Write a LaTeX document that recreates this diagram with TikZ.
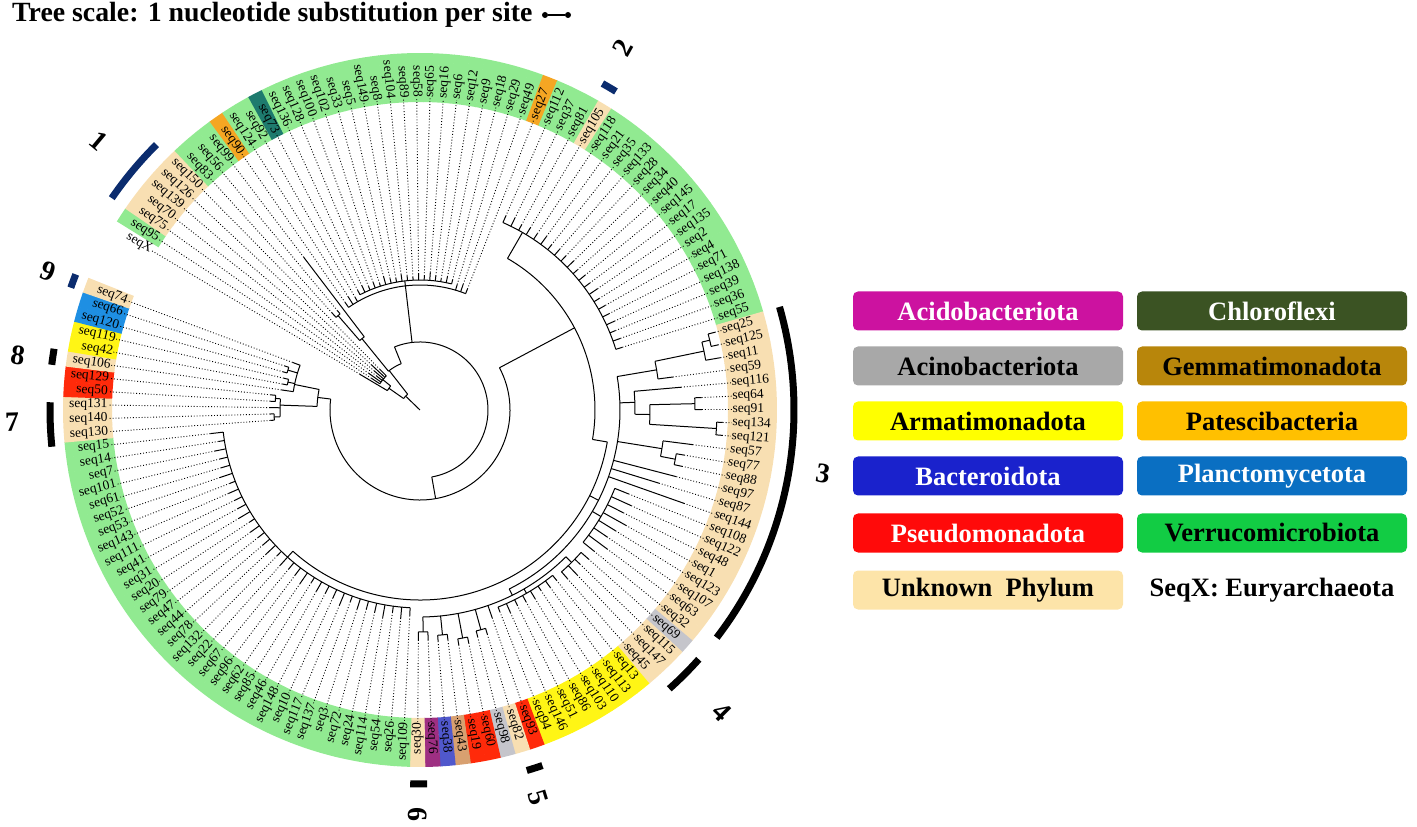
\documentclass[tikz,border=0pt]{standalone}
\usepackage{fontspec}
\setmainfont{Liberation Serif}
\usetikzlibrary{positioning}

\definecolor{vgreen}{HTML}{91EA91}
\definecolor{unk}{HTML}{F8DFB2}
\definecolor{pat}{HTML}{F5A623}
\definecolor{chl}{HTML}{1E7B6E}
\definecolor{arma}{HTML}{FFF515}
\definecolor{pse}{HTML}{FF2A0A}
\definecolor{acn}{HTML}{C5C5CB}
\definecolor{gem}{HTML}{D8A070}
\definecolor{bac}{HTML}{5058CC}
\definecolor{acd}{HTML}{9E2F82}
\definecolor{pla}{HTML}{1E8FE3}
\definecolor{nobg}{HTML}{FFFFFF}
\definecolor{navy}{HTML}{0B2C6E}
\definecolor{legAcido}{HTML}{CC12A0}
\definecolor{legChloro}{HTML}{3B5323}
\definecolor{legAcino}{HTML}{A8A8A8}
\definecolor{legGemma}{HTML}{B8860B}
\definecolor{legArma}{HTML}{FFFF00}
\definecolor{legPates}{HTML}{FFC000}
\definecolor{legBacte}{HTML}{1A22CC}
\definecolor{legPlanc}{HTML}{0A6FC2}
\definecolor{legPseudo}{HTML}{FF0A0A}
\definecolor{legVerru}{HTML}{12CC44}
\definecolor{legUnk}{HTML}{FDE4A9}

\tikzset{
  treeline/.style={line width=1pt, black},
  leafdot/.style={dotted, line width=0.9pt, black},
  leaflab/.style={inner sep=0.5pt, font=\fontsize{13.5}{13.5}\selectfont},
  cladebar/.style={line width=7pt},
  cladelab/.style={inner sep=0pt, font=\bfseries\fontsize{28}{28}\selectfont},
  legbox/.style={rounded corners=5pt, minimum width=270pt, minimum height=39pt, inner sep=0pt, font=\bfseries\fontsize{26.5}{28}\selectfont},
  sbdot/.style={circle, fill=black, inner sep=0pt, minimum size=6pt}
}

\pgfmathdeclarefunction{lf}{1}{\pgfmathparse{149.3-(#1-1)*2.446}}
\newcommand{\carc}[3]{\pgfmathsetmacro\tsa{#2}\pgfmathsetmacro\tea{#3}\draw[treeline] (\tsa:#1pt) arc[start angle=\tsa, end angle=\tea, radius=#1pt];}
\newcommand{\stem}[3]{\pgfmathsetmacro\tsa{#1}\draw[treeline] (\tsa:#2pt) -- (\tsa:#3pt);}

\def\leafdata{seqX/nobg/38/70, seq95/vgreen/48/58, seq75/unk/48/63, seq70/unk/48/55, seq139/unk/48/60, seq126/unk/48/66, seq150/unk/48/57,
seq83/vgreen/125/131, seq56/vgreen/125/129, seq99/vgreen/92/192,
seq90/pat/125/131, seq124/vgreen/125/134, seq92/vgreen/125/130, seq73/chl/130/135, seq136/vgreen/130/137, seq128/vgreen/130/134,
seq100/vgreen/130/136, seq102/vgreen/130/133, seq33/vgreen/130/138, seq5/vgreen/130/135, seq149/vgreen/130/134, seq8/vgreen/130/137,
seq104/vgreen/130/135, seq89/vgreen/130/133, seq58/vgreen/130/136, seq65/vgreen/130/134, seq16/vgreen/130/138, seq6/vgreen/130/135,
seq12/vgreen/130/133, seq9/vgreen/130/136, seq18/vgreen/130/134, seq29/vgreen/125/131, seq49/vgreen/125/133, seq27/pat/125/130,
seq112/vgreen/205/212, seq37/vgreen/205/214, seq81/vgreen/205/211, seq105/unk/205/213, seq118/vgreen/205/212, seq21/vgreen/205/215,
seq35/vgreen/205/211, seq133/vgreen/205/213, seq28/vgreen/205/212, seq34/vgreen/205/214, seq40/vgreen/205/211, seq145/vgreen/205/213,
seq17/vgreen/205/212, seq135/vgreen/205/215, seq2/vgreen/205/211, seq4/vgreen/205/213, seq71/vgreen/205/212, seq138/vgreen/205/214,
seq39/vgreen/205/211, seq36/vgreen/205/213, seq55/vgreen/205/212,
seq25/unk/298/305, seq125/unk/298/305, seq11/unk/290/305, seq59/unk/240/255, seq116/unk/215/262, seq64/unk/275/282,
seq91/unk/275/282, seq134/unk/297/303, seq121/unk/297/303, seq57/unk/245/275, seq77/unk/260/268, seq88/unk/260/268,
seq97/unk/200/265, seq87/unk/200/250, seq144/unk/200/280, seq108/unk/210/225, seq122/unk/210/232, seq48/unk/210/228,
seq1/unk/210/236, seq123/unk/210/230, seq107/unk/210/226, seq63/unk/210/233, seq32/unk/210/224,
seq69/acn/215/225, seq115/unk/215/222, seq147/unk/215/228, seq45/unk/215/224,
seq13/arma/212/218, seq113/arma/212/220, seq110/arma/212/217, seq103/arma/212/221, seq86/arma/212/219, seq51/arma/212/218,
seq146/arma/212/222, seq94/arma/212/217, seq93/pse/207/220, seq82/unk/228/234, seq98/acn/228/234, seq60/pse/232/238,
seq19/pse/232/238, seq43/gem/226/232, seq38/bac/226/232, seq76/acd/222/230, seq30/unk/222/230,
seq109/vgreen/198/206, seq26/vgreen/198/209, seq54/vgreen/198/204, seq114/vgreen/198/211, seq24/vgreen/198/207, seq72/vgreen/198/206,
seq3/vgreen/198/209, seq137/vgreen/198/204, seq117/vgreen/198/211, seq10/vgreen/198/207, seq148/vgreen/198/206, seq46/vgreen/198/209,
seq85/vgreen/198/204, seq62/vgreen/198/211, seq96/vgreen/198/207, seq67/vgreen/198/206, seq22/vgreen/198/209, seq132/vgreen/198/204,
seq78/vgreen/198/211, seq44/vgreen/198/207, seq47/vgreen/198/206, seq79/vgreen/198/209, seq20/vgreen/198/204, seq31/vgreen/198/211,
seq41/vgreen/198/207, seq111/vgreen/198/206, seq143/vgreen/198/209, seq53/vgreen/198/204, seq52/vgreen/198/211, seq61/vgreen/198/207,
seq101/vgreen/198/206, seq7/vgreen/198/209, seq14/vgreen/198/204, seq15/vgreen/198/211,
seq130/unk/146/150, seq140/unk/146/150, seq131/unk/140/150, seq50/pse/145/150, seq129/pse/145/150, seq106/unk/128/140,
seq42/arma/135/140, seq119/arma/135/140, seq120/pla/138/142, seq66/pla/138/142, seq74/unk/128/136}

\begin{document}
\begin{tikzpicture}
\useasboundingbox (-420pt,-417pt) rectangle (997pt,410pt);

\foreach \nm/\cl/\pr/\tp [count=\i] in \leafdata {
  \pgfmathsetmacro\leafang{lf(\i)}
  \pgfmathsetmacro\bandlo{\leafang-1.26}
  \pgfmathsetmacro\bandhi{\leafang+1.26}
  \fill[\cl] (\bandlo:308pt) arc[start angle=\bandlo, end angle=\bandhi, radius=308pt] -- (\bandhi:357pt) arc[start angle=\bandhi, end angle=\bandlo, radius=357pt] -- cycle;
}

\foreach \nm/\cl/\pr/\tp [count=\i] in \leafdata {
  \pgfmathsetmacro\leafang{lf(\i)}
  \pgfmathsetmacro\leafnorm{\leafang<-90 ? \leafang+360 : \leafang}
  \ifdim\leafnorm pt>90pt
    \def\leafanc{east}\pgfmathsetmacro\leafrot{\leafnorm-180}
  \else
    \def\leafanc{west}\pgfmathsetmacro\leafrot{\leafnorm}
  \fi
  \coordinate (t\i) at (\leafang:\tp pt);
  \node[leaflab, anchor=\leafanc, rotate=\leafrot] (l\i) at (\leafang:312pt) {\nm};
  \draw[treeline] (\leafang:\pr pt) -- (t\i);
  \draw[leafdot] (t\i) -- (l\i);
}

\draw[treeline] (0,0) -- (136:20pt);
\carc{20}{145}{128}
\stem{145}{20}{38}
\carc{38}{lf(1)}{lf(4.5)}
\stem{lf(4.5)}{38}{48}
\carc{48}{lf(2)}{lf(7)}
\stem{128}{20}{50}
\carc{50}{lf(9.25)}{112}
\stem{lf(9.25)}{50}{92}
\carc{92}{lf(8.5)}{lf(10)}
\stem{lf(8.5)}{92}{125}
\carc{125}{lf(8)}{lf(9)}
\stem{112}{50}{68}
\carc{68}{112}{-80}
\stem{lf(22.5)}{68}{130}
\carc{125}{lf(11)}{lf(34)}
\carc{130}{lf(14)}{lf(31)}
\stem{-80}{68}{90}
\carc{90}{28}{-187}
\stem{28}{90}{175}
\carc{175}{60}{lf(66)}
\stem{60}{175}{205}
\carc{205}{lf(35)}{lf(55)}
\stem{lf(66)}{175}{190}
\carc{190}{lf(66)}{lf(116)}
\stem{lf(73)}{190}{200}
\carc{200}{lf(58.1)}{lf(88)}
\stem{lf(56.5)}{290}{298}
\carc{298}{lf(56)}{lf(57)}
\carc{290}{lf(56.5)}{lf(58)}
\stem{lf(57.25)}{240}{290}
\carc{240}{lf(57.25)}{lf(59)}
\stem{lf(58.1)}{200}{240}
\carc{275}{lf(61)}{lf(62)}
\stem{lf(61.5)}{230}{275}
\carc{297}{lf(63)}{lf(64)}
\stem{lf(63.5)}{230}{297}
\carc{230}{lf(61.5)}{lf(63.5)}
\stem{lf(62.5)}{215}{230}
\carc{215}{lf(60)}{lf(62.5)}
\stem{lf(61.2)}{200}{215}
\carc{260}{lf(66)}{lf(67)}
\stem{lf(66.5)}{245}{260}
\carc{245}{lf(65)}{lf(66.5)}
\stem{lf(65.75)}{200}{245}
\carc{210}{lf(71)}{lf(78)}
\stem{lf(74.5)}{200}{210}
\carc{215}{lf(79)}{lf(82)}
\stem{lf(80.5)}{207}{215}
\carc{212}{lf(83)}{lf(90)}
\stem{lf(86.5)}{207}{212}
\carc{228}{lf(92)}{lf(93)}
\stem{lf(92.5)}{207}{228}
\carc{232}{lf(94)}{lf(95)}
\stem{lf(94.5)}{207}{232}
\carc{226}{lf(96)}{lf(97)}
\stem{lf(96.5)}{207}{226}
\carc{222}{lf(98)}{lf(99)}
\stem{lf(98.5)}{207}{222}
\carc{207}{lf(80.5)}{lf(98.5)}
\stem{lf(88)}{200}{207}
\stem{lf(116)}{190}{198}
\carc{198}{lf(100)}{lf(133)}
\stem{-187}{90}{103}
\carc{103}{168.5}{178}
\stem{178}{103}{140}
\carc{140}{lf(134.5)}{lf(137.5)}
\stem{lf(134.5)}{140}{146}
\carc{146}{lf(134)}{lf(135)}
\stem{lf(137.5)}{140}{145}
\carc{145}{lf(137)}{lf(138)}
\stem{168.5}{103}{128}
\carc{128}{lf(139)}{lf(144)}
\stem{lf(140.5)}{128}{135}
\carc{135}{lf(140)}{lf(141)}
\stem{lf(142.5)}{128}{138}
\carc{138}{lf(142)}{lf(143)}

\draw[cladebar, navy] (134.8:374pt) arc[start angle=134.8, end angle=145.5, radius=374pt];
\draw[cladebar, navy] (58.4:374pt) arc[start angle=58.4, end angle=60.8, radius=374pt];
\draw[cladebar] (16:374pt) arc[start angle=16, end angle=-37.5, radius=374pt];
\draw[cladebar] (-41.8:374pt) arc[start angle=-41.8, end angle=-48.2, radius=374pt];
\draw[cladebar] (-71:376pt) arc[start angle=-71, end angle=-73.5, radius=376pt];
\draw[cladebar] (-88.9:374pt) arc[start angle=-88.9, end angle=-91.5, radius=374pt];
\draw[cladebar] (178.8:370pt) arc[start angle=178.8, end angle=185.7, radius=370pt];
\draw[cladebar] (170.5:371pt) arc[start angle=170.5, end angle=173, radius=371pt];
\draw[cladebar, navy] (158.5:370pt) arc[start angle=158.5, end angle=160.7, radius=370pt];

\node[cladelab, rotate=-40] (k1) at (140:419pt) {1};
\node[cladelab, rotate=60.7] (k2) at (60.7:415pt) {2};
\node[cladelab, rotate=-9] (k3) at (-9:408pt) {3};
\node[cladelab, rotate=-45] (k4) at (-45:427pt) {4};
\node[cladelab, rotate=-73] (k5) at (-73:405pt) {5};
\node[cladelab, rotate=-90] (k6) at (-90.4:405pt) {6};
\node[cladelab, rotate=1.7] (k7) at (181.7:408pt) {7};
\node[cladelab, rotate=-7.8] (k8) at (172.2:406pt) {8};
\node[cladelab, rotate=-20.4] (k9) at (159.6:397pt) {9};

\node[anchor=west, inner sep=0pt, font=\bfseries\fontsize{27.8}{28}\selectfont] (title) at (-408pt,395pt) {Tree scale: 1 nucleotide substitution per site};
\node[sbdot] (sb1) at (125pt,395pt) {};
\node[sbdot] (sb2) at (148pt,395pt) {};
\draw[line width=1.5pt] (sb1) -- (sb2);

\node[legbox, fill=legAcido, text=white] (acido) at (568pt,99pt) {Acidobacteriota};
\node[legbox, fill=legChloro, text=white] (chloro) at (852pt,99pt) {Chloroflexi};
\node[legbox, fill=legAcino] (acino) at (568pt,44pt) {Acinobacteriota};
\node[legbox, fill=legGemma] (gemma) at (852pt,44pt) {Gemmatimonadota};
\node[legbox, fill=legArma] (arma) at (568pt,-11pt) {Armatimonadota};
\node[legbox, fill=legPates] (pates) at (852pt,-11pt) {Patescibacteria};
\node[legbox, fill=legBacte, text=white] (bacte) at (568pt,-66pt) {Bacteroidota};
\node[legbox, fill=legPlanc, text=white] (planc) at (852pt,-66pt) {Planctomycetota};
\node[legbox, fill=legPseudo, text=white] (pseudo) at (568pt,-123pt) {Pseudomonadota};
\node[legbox, fill=legVerru] (verru) at (852pt,-123pt) {Verrucomicrobiota};
\node[legbox, fill=legUnk] (unknown) at (568pt,-180pt) {Unknown\ \ Phylum};
\node[legbox] (seqx) at (852pt,-180pt) {SeqX: Euryarchaeota};
\end{tikzpicture}
\end{document}
